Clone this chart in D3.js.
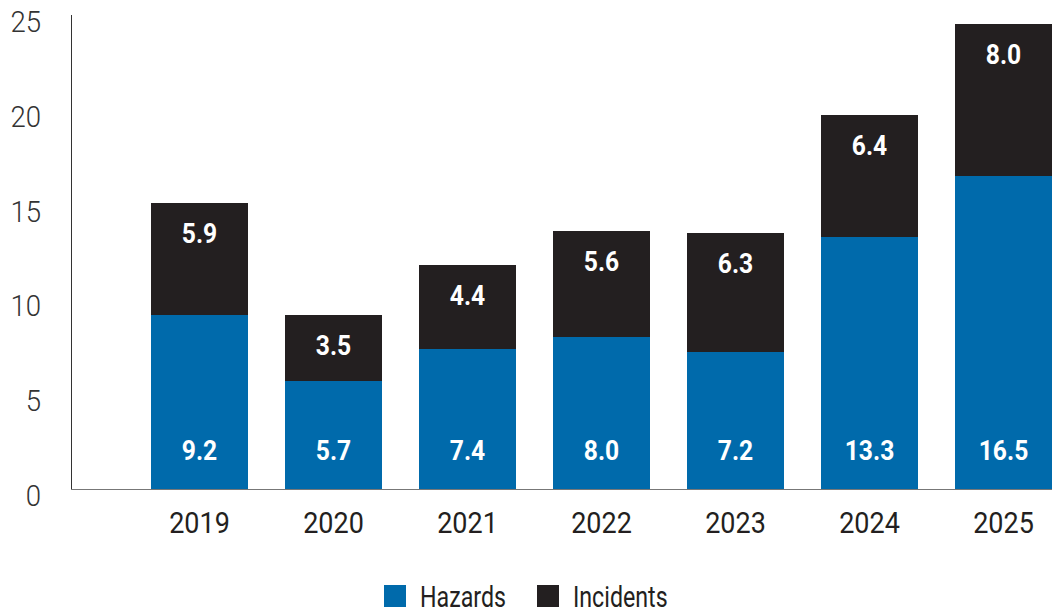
<!DOCTYPE html>
<html>
<head>
<meta charset="utf-8">
<script src="https://cdn.jsdelivr.net/npm/d3@7"></script>
<style>
  body { margin: 0; background: #fff; }
  svg { display: block; }
</style>
</head>
<body>
<div id="chart"></div>
<script>
var years = ["2019", "2020", "2021", "2022", "2023", "2024", "2025"];
var hazards = [9.2, 5.7, 7.4, 8.0, 7.2, 13.3, 16.5];
var incidents = [5.9, 3.5, 4.4, 5.6, 6.3, 6.4, 8.0];
var yTicks = [0, 5, 10, 15, 20, 25];
var seriesNames = ["Hazards", "Incidents"];
var seriesColors = ["#006aab", "#231f20"];

var width = 1064, height = 614;

var svg = d3.select("#chart").append("svg")
  .attr("width", width)
  .attr("height", height);

var x = d3.scaleBand()
  .domain(years)
  .range([132.5, 1070.5])
  .paddingInner(0.276)
  .paddingOuter(0.138);

var y = d3.scaleLinear()
  .domain([0, 25])
  .range([489, 15]);

var rows = years.map(function(d, i) {
  return { year: d, Hazards: hazards[i], Incidents: incidents[i] };
});
var stacked = d3.stack().keys(seriesNames)(rows);

// bars
svg.selectAll("g.series")
  .data(stacked)
  .enter()
  .append("g")
  .attr("class", "series")
  .attr("fill", function(d, i) { return seriesColors[i]; })
  .selectAll("rect")
  .data(function(d) { return d; })
  .enter()
  .append("rect")
  .attr("shape-rendering", "crispEdges")
  .attr("x", function(d) { return x(d.data.year); })
  .attr("y", function(d) { return y(d[1]); })
  .attr("width", x.bandwidth())
  .attr("height", function(d) { return y(d[0]) - y(d[1]); });

// y axis line + baseline
svg.append("line")
  .attr("x1", 71.5).attr("x2", 71.5)
  .attr("y1", y(25)).attr("y2", y(0))
  .attr("stroke", "#333").attr("stroke-width", 1);
svg.append("line")
  .attr("x1", 71).attr("x2", x(years[years.length - 1]) + x.bandwidth())
  .attr("y1", y(0) + 0.5).attr("y2", y(0) + 0.5)
  .attr("stroke", "#777").attr("stroke-width", 1);

// y tick labels
svg.selectAll("text.ytick")
  .data(yTicks)
  .enter()
  .append("text")
  .attr("class", "ytick")
  .attr("transform", function(d) { return "translate(41," + (y(d) + 17) + ") scale(0.92,1)"; })
  .attr("text-anchor", "end")
  .style("font-family", "Roboto, sans-serif")
  .style("font-weight", 300)
  .style("font-size", "30px")
  .style("fill", "#333")
  .text(function(d) { return d; });

// x labels
svg.selectAll("text.xtick")
  .data(years)
  .enter()
  .append("text")
  .attr("class", "xtick")
  .attr("transform", function(d) { return "translate(" + (x(d) + x.bandwidth() / 2) + ",533) scale(0.9,1)"; })
  .attr("text-anchor", "middle")
  .style("font-family", "Roboto, sans-serif")
  .style("font-size", "30px")
  .style("fill", "#231f20")
  .text(function(d) { return d; });

// value labels: hazards near bottom, incidents near top of their segment
svg.selectAll("text.hz")
  .data(rows)
  .enter()
  .append("text")
  .attr("class", "hz")
  .attr("transform", function(d) { return "translate(" + (x(d.year) + x.bandwidth() / 2) + ",460) scale(0.88,1)"; })
  .attr("text-anchor", "middle")
  .style("font-family", "Roboto, sans-serif")
  .style("font-weight", 700)
  .style("font-size", "28px")
  .style("fill", "#fff")
  .text(function(d) { return d.Hazards.toFixed(1); });

svg.selectAll("text.inc")
  .data(rows)
  .enter()
  .append("text")
  .attr("class", "inc")
  .attr("transform", function(d) {
    return "translate(" + (x(d.year) + x.bandwidth() / 2) + "," + (y(d.Hazards + d.Incidents) + 40) + ") scale(0.88,1)";
  })
  .attr("text-anchor", "middle")
  .style("font-family", "Roboto, sans-serif")
  .style("font-weight", 700)
  .style("font-size", "28px")
  .style("fill", "#fff")
  .text(function(d) { return d.Incidents.toFixed(1); });

// legend
var legendX = [384, 537];
var legend = svg.selectAll("g.legend")
  .data(seriesNames)
  .enter()
  .append("g")
  .attr("class", "legend")
  .attr("transform", function(d, i) { return "translate(" + legendX[i] + ",585)"; });
legend.append("rect")
  .attr("width", 22).attr("height", 22)
  .attr("fill", function(d, i) { return seriesColors[i]; });
legend.append("text")
  .attr("transform", "translate(36,22) scale(0.8,1)")
  .style("font-family", "Roboto, sans-serif")
  .style("font-size", "29px")
  .style("fill", "#231f20")
  .text(function(d) { return d; });
</script>
</body>
</html>
